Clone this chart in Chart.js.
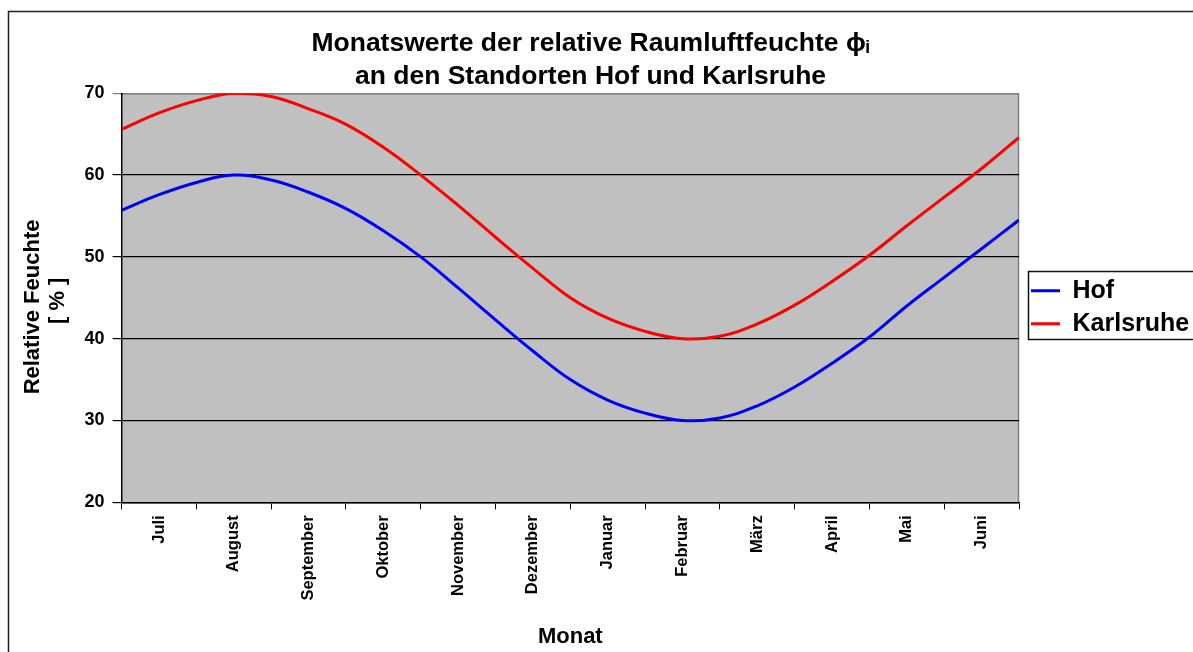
<!DOCTYPE html>
<html>
<head>
<meta charset="utf-8">
<script src="https://cdn.jsdelivr.net/npm/chart.js"></script>
<style>
  html, body { margin: 0; padding: 0; background: #fff; }
  #wrap { width: 1193px; height: 652px; }
</style>
</head>
<body>
<div id="wrap"><canvas id="line-chart"></canvas></div>
<script>
// month labels on the x axis (starting in July)
var months = ["Juli", "August", "September", "Oktober", "November", "Dezember",
              "Januar", "Februar", "März", "April", "Mai", "Juni"];

// position in months from the start of July, half-month steps
var monthPos = [0, 0.5, 1, 1.5, 2, 2.5, 3, 3.5, 4, 4.5, 5, 5.5, 6,
                6.5, 7, 7.5, 8, 8.5, 9, 9.5, 10, 10.5, 11, 11.5, 12];

// relative humidity in %
var hof = [55.7, 57.6, 59.1, 60.0, 59.4, 57.9, 55.9, 53.2, 50.0, 46.2, 42.3, 38.5, 35.0,
           32.5, 30.9, 30.0, 30.3, 31.8, 34.1, 37.0, 40.2, 44.0, 47.5, 51.0, 54.5];
var karlsruhe = [65.6, 67.6, 69.1, 70.0, 69.6, 68.1, 66.2, 63.4, 60.0, 56.3, 52.4, 48.6, 45.0,
                 42.5, 40.9, 40.0, 40.3, 41.8, 44.1, 47.0, 50.2, 53.8, 57.3, 60.8, 64.6];

var yTicks = [20, 30, 40, 50, 60, 70];

function pts(vals) {
  return vals.map(function (v, i) { return { x: monthPos[i], y: v }; });
}

var FONT = "'Liberation Sans', Arial, sans-serif";

// grey plot area, outer frame, legend frame
var frames = {
  id: 'frames',
  beforeUpdate: function (chart) {
    var lg = chart.legend;
    if (lg && !lg._patched) {
      var fit = lg.fit;
      lg.fit = function () {
        fit.apply(this, arguments);
        this.width = 174;
      };
      lg._patched = true;
    }
  },
  afterLayout: function (chart) {
    var lg = chart.legend;
    if (lg) {
      lg.top += 9.5;
      lg.bottom += 9.5;
      lg.left += 4;
      lg.right += 4;
      lg.adjustHitBoxes();
    }
    var tb = chart.titleBlock;
    if (tb) {
      tb.left -= 16;
      tb.right -= 16;
    }
  },
  beforeDraw: function (chart) {
    var c = chart.ctx, a = chart.chartArea;
    c.save();
    c.fillStyle = '#fff';
    c.fillRect(0, 0, chart.width, chart.height);
    c.strokeStyle = '#222';
    c.lineWidth = 1.5;
    c.strokeRect(8.5, 11.5, chart.width + 20, chart.height + 20);
    c.fillStyle = '#c0c0c0';
    c.fillRect(a.left, a.top, a.right - a.left, a.bottom - a.top);
    c.strokeStyle = '#808080';
    c.lineWidth = 1.5;
    c.beginPath();
    c.moveTo(a.left, a.top + 0.5);
    c.lineTo(a.right - 0.5, a.top + 0.5);
    c.lineTo(a.right - 0.5, a.bottom);
    c.stroke();
    c.restore();
  },
  afterDraw: function (chart) {
    var c = chart.ctx, lg = chart.legend;
    if (!lg || !lg.legendHitBoxes.length) return;
    var first = lg.legendHitBoxes[0], last = lg.legendHitBoxes[lg.legendHitBoxes.length - 1];
    var top = first.top - 7.5, bottom = last.top + last.height + 2.5;
    c.save();
    c.strokeStyle = '#111';
    c.lineWidth = 1.5;
    c.strokeRect(lg.left + 5.5, Math.round(top) + 0.5, chart.width, Math.round(bottom - top));
    c.restore();
  }
};

new Chart(document.getElementById("line-chart"), {
  type: 'line',
  data: {
    labels: months,
    datasets: [
      {
        label: "Hof",
        data: pts(hof),
        xAxisID: 'x2',
        borderColor: "#0000ff",
        backgroundColor: "#0000ff",
        borderWidth: 3,
        pointRadius: 0,
        tension: 0.4,
        fill: false
      },
      {
        label: "Karlsruhe",
        data: pts(karlsruhe),
        xAxisID: 'x2',
        borderColor: "#ff0000",
        backgroundColor: "#ff0000",
        borderWidth: 3,
        pointRadius: 0,
        tension: 0.4,
        fill: false
      }
    ]
  },
  options: {
    responsive: true,
    maintainAspectRatio: false,
    animation: false,
    layout: { padding: { left: 20, right: 0, top: 14, bottom: 2 } },
    plugins: {
      title: {
        display: true,
        text: ["Monatswerte der relative Raumluftfeuchte ϕᵢ", "an den Standorten Hof und Karlsruhe"],
        color: '#000',
        font: { family: FONT, size: 26.5, weight: 'bold', lineHeight: 1.25 },
        padding: { top: 13, bottom: 0 }
      },
      legend: {
        position: 'right',
        fullSize: false,
        labels: {
          color: '#000',
          font: { family: FONT, size: 25, weight: 'bold' },
          boxWidth: 29,
          boxHeight: 3,
          padding: 8,
          generateLabels: function (chart) {
            var items = Chart.defaults.plugins.legend.labels.generateLabels(chart);
            items.forEach(function (it) { it.lineWidth = 0; it.fillStyle = it.strokeStyle; });
            return items;
          }
        }
      },
      tooltip: { enabled: false }
    },
    scales: {
      x: {
        type: 'category',
        offset: true,
        border: { color: '#000', width: 1.5 },
        grid: { offset: true, drawOnChartArea: false, color: '#000', tickLength: 7 },
        ticks: {
          color: '#000',
          minRotation: 90,
          maxRotation: 90,
          autoSkip: false,
          padding: 6,
          font: { family: FONT, size: 16.5, weight: 'bold' }
        },
        title: {
          display: true,
          text: 'Monat',
          color: '#000',
          font: { family: FONT, size: 22, weight: 'bold', lineHeight: 1.2 },
          padding: { top: 17, bottom: 0 }
        }
      },
      x2: {
        type: 'linear',
        min: 0,
        max: 12,
        display: false
      },
      y: {
        min: yTicks[0],
        max: yTicks[yTicks.length - 1],
        border: { color: '#000', width: 1.5 },
        grid: {
          color: function (ctx) { return ctx.tick && ctx.tick.value === 70 ? '#808080' : '#000'; },
          tickLength: 9,
          lineWidth: 1.2
        },
        afterBuildTicks: function (axis) {
          axis.ticks = yTicks.map(function (v) { return { value: v }; });
        },
        ticks: {
          color: '#000',
          padding: 8,
          font: { family: FONT, size: 18, weight: 'bold' }
        },
        title: {
          display: true,
          text: ['Relative Feuchte   ', '[ % ] '],
          color: '#000',
          font: { family: FONT, size: 22, weight: 'bold', lineHeight: 1.15 },
          padding: { top: 0, bottom: 6 }
        }
      }
    }
  },
  plugins: [frames]
});
</script>
</body>
</html>
